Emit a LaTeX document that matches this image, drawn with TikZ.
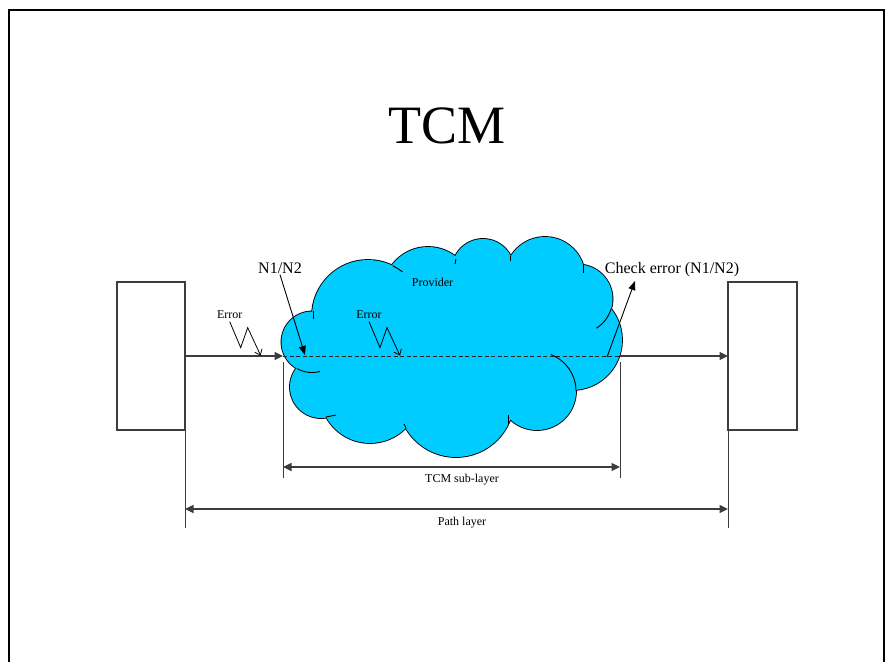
\documentclass[tikz,border=0pt]{standalone}
\usepackage{fontspec}
\setmainfont{Liberation Serif}
\usetikzlibrary{positioning,arrows.meta}
\definecolor{provcyan}{RGB}{0,204,255}
\definecolor{lineg}{RGB}{60,60,60}

\begin{document}
\begin{tikzpicture}[
  x=1pt, y=1pt, yscale=-1,
  >={Triangle[length=8.5pt,width=8pt]},
  endbox/.style={draw=lineg, line width=1.1pt, minimum width=68pt, minimum height=148pt,
                 inner sep=0pt, outer sep=0pt},
  mainline/.style={draw=lineg, line width=1.2pt},
  dashline/.style={draw=black!85, line width=1pt, dash pattern=on 4pt off 2.5pt},
  tickline/.style={draw=lineg, line width=0.9pt},
  cloudline/.style={draw=black, line width=1.8pt},
  cloudfill/.style={fill=provcyan},
  innerarc/.style={draw=black, line width=0.9pt},
  ptr/.style={draw=black, line width=0.9pt, -{Triangle[length=9pt,width=7pt]}},
  zig/.style={draw=black, line width=0.8pt, -{Straight Barb[length=5pt,width=8pt]}},
  bigtxt/.style={font=\fontsize{16}{19}\selectfont, inner sep=1pt, anchor=base},
  smalltxt/.style={font=\fontsize{12}{14}\selectfont, inner sep=1pt, anchor=base},
]
\useasboundingbox (0,0) rectangle (888,661);

% ==================== frame and title ====================
\draw[line width=2pt] (9,10) rectangle (884,680);
\node[font=\fontsize{54}{60}\selectfont, anchor=base, inner sep=0pt] (title) at (446.7,143.3) {TCM};

% ==================== end boxes ====================
\node[endbox] (lbox) at (151,356) {};
\node[endbox, minimum width=69pt] (rbox) at (762.5,356) {};

\coordinate (tcmL) at (283,356);
\coordinate (tcmR) at (620,356);

% ==================== layer extents ====================
\draw[tickline] (283,362) -- (283,478);
\draw[tickline] (620,362) -- (620,478);
\draw[tickline] (lbox.south east) -- ++(0,98);
\draw[tickline] (rbox.south west) -- ++(0,98);

\coordinate (subL) at (283,467);
\coordinate (subR) at (620,467);
\draw[mainline,<->] (subL) -- (subR);
\node[smalltxt] (sublbl) at (462,482.6) {TCM sub-layer};

\coordinate (pathL) at (185,509);
\coordinate (pathR) at (728,509);
\draw[mainline,<->] (pathL) -- (pathR);
\node[smalltxt] (pathlbl) at (462,525) {Path layer};

% ==================== provider cloud ====================
\draw[cloudline] (312,342) circle[radius=30.5] (368,316) circle[radius=56]
  (428,292) circle[radius=45] (483,270) circle[radius=31] (545,277) circle[radius=40]
  (578,299) circle[radius=34.5] (572,340) circle[radius=50] (537,391) circle[radius=39]
  (456,399) circle[radius=58] (370,393) circle[radius=50] (321,387) circle[radius=31];
\fill[cloudfill] (312,342) -- (368,316) -- (428,292) -- (483,270) -- (545,277) -- (578,299)
  -- (572,340) -- (537,391) -- (456,399) -- (370,393) -- (321,387) -- cycle;
\fill[cloudfill] (312,342) circle[radius=30.5] (368,316) circle[radius=56]
  (428,292) circle[radius=45] (483,270) circle[radius=31] (545,277) circle[radius=40]
  (578,299) circle[radius=34.5] (572,340) circle[radius=50] (537,391) circle[radius=39]
  (456,399) circle[radius=58] (370,393) circle[radius=50] (321,387) circle[radius=31];

\draw[innerarc] (312,342) ++(120:30.5) arc[start angle=120, end angle=75, radius=30.5];
\draw[innerarc] (368,316) ++(-64:56) arc[start angle=-64, end angle=-52, radius=56];
\draw[innerarc] (456,259) -- (455,264);
\draw[innerarc] (510,256) -- (510,261);
\draw[innerarc] (583,265) -- (583,273);
\draw[innerarc] (578,299) ++(17:34.5) arc[start angle=17, end angle=58, radius=34.5];
\draw[innerarc] (537,391) ++(-69:39) arc[start angle=-69, end angle=0, radius=39];
\draw[innerarc] (508,415) -- (508,425);
\draw[innerarc] (406,428) -- (404,424);
\draw[innerarc] (326,417) -- (336,415);
\draw[innerarc] (313,311) -- (313,319);

\node[smalltxt] (prov) at (432.5,286) {Provider};

% ==================== signal path ====================
\draw[mainline,->] (lbox.east) -- (tcmL);
\draw[dashline] (tcmL) -- (tcmR);
\draw[mainline,->] (tcmR) -- (rbox.west);

% ==================== monitoring labels ====================
\node[bigtxt] (n12) at (280,273.3) {N1/N2};
\coordinate (n12tip) at (305,355);
\draw[ptr] (n12.south) -- (n12tip);

\node[bigtxt] (chk) at (672,273.3) {Check error (N1/N2)};
\coordinate (chkfrom) at (607,357);
\coordinate (chktip) at (635,281);
\draw[ptr] (chkfrom) -- (chktip);

\node[smalltxt] (err1) at (229.7,318.3) {Error};
\draw[zig] (err1.south) ++(0,2) -- ++(11,26) -- ++(7,-20) -- ++(13,28);
\node[smalltxt] (err2) at (369,318.3) {Error};
\draw[zig] (err2.south) ++(0,2) -- ++(11,26) -- ++(7,-20) -- ++(13,28);

\end{tikzpicture}
\end{document}
